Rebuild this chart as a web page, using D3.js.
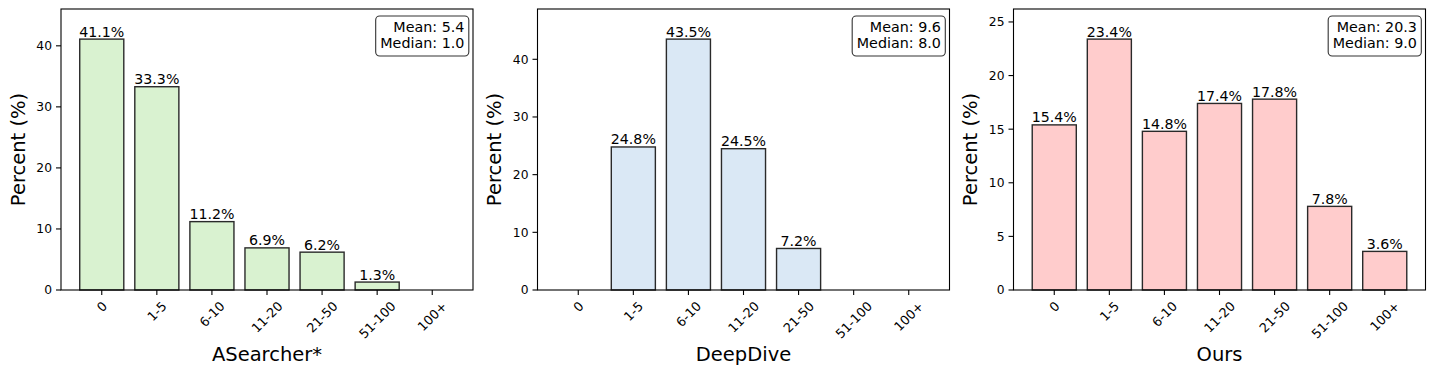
<!DOCTYPE html>
<html>
<head>
<meta charset="utf-8">
<script src="https://cdn.jsdelivr.net/npm/d3@7"></script>
<style>
  body { margin: 0; background: #fff; }
  svg text { font-family: "DejaVu Sans", sans-serif; fill: #000; }
</style>
</head>
<body>
<div id="chart"></div>
<script>
// data
const categories = ["0", "1-5", "6-10", "11-20", "21-50", "51-100", "100+"];
const asearcherValues = [41.1, 33.3, 11.2, 6.9, 6.2, 1.3, 0];
const deepdiveValues = [0, 24.8, 43.5, 24.5, 7.2, 0, 0];
const oursValues = [15.4, 23.4, 14.8, 17.4, 17.8, 7.8, 3.6];
const panelNames = ["ASearcher*", "DeepDive", "Ours"];
const panelMeans = ["5.4", "9.6", "20.3"];
const panelMedians = ["1.0", "8.0", "9.0"];

const panels = [
  { name: panelNames[0], values: asearcherValues, mean: panelMeans[0], median: panelMedians[0], fill: "#d9f2d0", left: 61 },
  { name: panelNames[1], values: deepdiveValues, mean: panelMeans[1], median: panelMedians[1], fill: "#dae8f5", left: 537.5 },
  { name: panelNames[2], values: oursValues, mean: panelMeans[2], median: panelMedians[2], fill: "#ffcccc", left: 1013.5 }
];

const width = 1435, height = 375;
const axTop = 9, axBottom = 290, axWidth = 412;

const svg = d3.select("#chart")
  .append("svg")
  .attr("width", width)
  .attr("height", height);

panels.forEach(p => {
  const g = svg.append("g");
  const right = p.left + axWidth;

  const x = d3.scaleLinear()
    .domain([-0.74, categories.length - 1 + 0.74])
    .range([p.left, right]);

  const yMax = d3.max(p.values) * 1.12;
  const y = d3.scaleLinear()
    .domain([0, yMax])
    .range([axBottom, axTop]);

  // bars
  g.selectAll(".bar")
    .data(p.values)
    .enter()
    .append("rect")
    .attr("class", "bar")
    .attr("x", (d, i) => x(i - 0.4))
    .attr("width", (d, i) => x(i + 0.4) - x(i - 0.4))
    .attr("y", d => y(d))
    .attr("height", d => y(0) - y(d))
    .attr("fill", p.fill)
    .attr("stroke", "#2a2a2a")
    .attr("stroke-width", 1.4);

  // bar labels
  g.selectAll(".label")
    .data(p.values.map((v, i) => ({ v, i })).filter(d => d.v > 0))
    .enter()
    .append("text")
    .attr("class", "label")
    .attr("x", d => x(d.i))
    .attr("y", d => y(d.v) - 2.5)
    .attr("text-anchor", "middle")
    .style("font-size", "14.2px")
    .text(d => d.v.toFixed(1) + "%");

  // y axis
  const yTicks = y.ticks(5);
  yTicks.forEach(t => {
    g.append("line")
      .attr("x1", p.left - 5).attr("x2", p.left)
      .attr("y1", y(t)).attr("y2", y(t))
      .attr("stroke", "#000").attr("stroke-width", 1.1);
    g.append("text")
      .attr("x", p.left - 9)
      .attr("y", y(t))
      .attr("dy", "0.36em")
      .attr("text-anchor", "end")
      .style("font-size", "12.3px")
      .text(t);
  });

  // x axis ticks and rotated labels
  categories.forEach((c, i) => {
    const tx = x(i);
    g.append("line")
      .attr("x1", tx).attr("x2", tx)
      .attr("y1", axBottom).attr("y2", axBottom + 5)
      .attr("stroke", "#000").attr("stroke-width", 1.1);
    const t = g.append("text")
      .attr("text-anchor", "middle")
      .style("font-size", "12.8px")
      .text(c);
    const w = t.node().getComputedTextLength();
    const h = 12.8 * 0.85;
    const half = (w + h) / (2 * Math.SQRT2);
    const cy = axBottom + 10 + half;
    t.attr("transform", `translate(${tx},${cy}) rotate(-45)`)
      .attr("dy", "0.36em");
  });

  // frame
  g.append("rect")
    .attr("x", p.left).attr("y", axTop)
    .attr("width", axWidth).attr("height", axBottom - axTop)
    .attr("fill", "none")
    .attr("stroke", "#000")
    .attr("stroke-width", 1.1);

  // axis titles
  g.append("text")
    .attr("transform", `translate(${p.left - 36.5},${(axTop + axBottom) / 2}) rotate(-90)`)
    .attr("text-anchor", "middle")
    .style("font-size", "19.5px")
    .text("Percent (%)");

  g.append("text")
    .attr("x", (p.left + right) / 2)
    .attr("y", 361)
    .attr("text-anchor", "middle")
    .style("font-size", "19.5px")
    .text(p.name);

  // stats box
  const box = g.append("g");
  const textRight = right - 8.6;
  const l1 = box.append("text")
    .attr("x", textRight).attr("y", 31.5)
    .attr("text-anchor", "end")
    .style("font-size", "14.3px")
    .text("Mean: " + p.mean);
  const l2 = box.append("text")
    .attr("x", textRight).attr("y", 48.2)
    .attr("text-anchor", "end")
    .style("font-size", "14.3px")
    .text("Median: " + p.median);
  const tw = Math.max(l1.node().getComputedTextLength(), l2.node().getComputedTextLength());
  box.insert("rect", "text")
    .attr("x", textRight - tw - 4.6)
    .attr("y", 16)
    .attr("width", tw + 9)
    .attr("height", 40)
    .attr("rx", 4).attr("ry", 4)
    .attr("fill", "#fff")
    .attr("stroke", "#333")
    .attr("stroke-width", 1.1);
});
</script>
</body>
</html>
